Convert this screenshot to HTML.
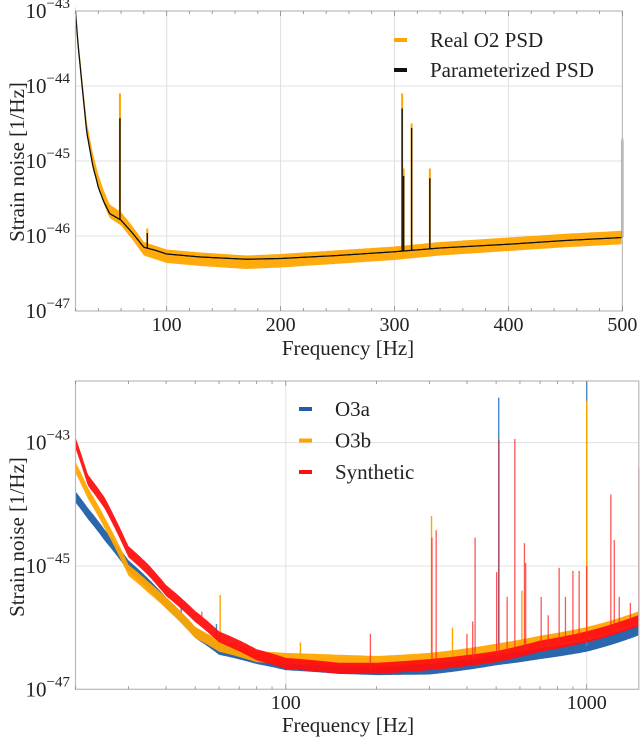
<!DOCTYPE html>
<html><head><meta charset="utf-8"><style>
html,body{margin:0;padding:0;background:#fff;}
svg{display:block;font-family:"Liberation Serif",serif;}
</style></head><body>
<svg id="root" width="640" height="737" viewBox="0 0 640 737"></svg>
<script>
// ---------- Top chart data (log10 strain noise) ----------
const topFreqs = [20,22,25,30,35,40,45,50,60,70,80,90,100,130,170,200,250,300,340,400,450,500];
const topParam = [-43.0,-43.4,-43.88,-44.63,-45.05,-45.35,-45.55,-45.7,-45.79,-45.96,-46.15,-46.19,-46.24,-46.28,-46.31,-46.3,-46.26,-46.21,-46.16,-46.11,-46.06,-46.02];
const topRealOffset = [0,0,0.02,0.05,0.08,0.08,0.06,0.03,0.02,0,-0.02,-0.03,-0.03,-0.03,-0.04,-0.03,-0.02,-0.02,-0.01,0,0,0];
const topSpikeFreqs = [59,83,306.7,308,315,331,500];
const topSpikeParam = [-44.43,-45.96,-44.3,-45.2,-44.56,-45.23,-44.73];
const topSpikeReal = [-44.1,-45.9,-44.1,-45.1,-44.5,-45.1,-44.7];
const topXTicks = [100,200,300,400,500];
const topYTicks = [-47,-46,-45,-44,-43];
// ---------- Bottom chart data ----------
const botFreqs = [20,22,25,30,35,40,50,60,80,100,150,200,300,500,700,1000,1500];
const botO3a = [-43.88,-44.15,-44.5,-45.0,-45.3,-45.6,-46.08,-46.35,-46.5,-46.6,-46.66,-46.68,-46.67,-46.52,-46.42,-46.3,-46.03];
const botO3b = [-43.4,-43.82,-44.3,-45.07,-45.35,-45.6,-46.08,-46.3,-46.47,-46.5,-46.53,-46.55,-46.5,-46.35,-46.22,-46.08,-45.82];
const botSyn = [-43.0,-43.61,-43.98,-44.77,-45.07,-45.4,-45.82,-46.15,-46.44,-46.58,-46.66,-46.66,-46.6,-46.47,-46.3,-46.15,-45.88];
const o3aSpikeF = [44.9,58.8,510,1000];
const o3aSpikeV = [-45.58,-45.94,-42.27,-42.0];
const o3bSpikeF = [60.5,111.8,305,358,609,1000];
const o3bSpikeV = [-45.47,-46.24,-44.19,-46.0,-45.4,-42.32];
const synSpikeF = [52.6,191,306,316,400,418,425.7,502,511,544,577,621,627,706,745,810,850,900,944,1000,1203,1235,1283,1397,1490];
const synSpikeV = [-45.74,-46.1,-44.54,-44.42,-46.1,-45.9,-44.54,-45.1,-42.95,-45.5,-42.94,-44.63,-44.95,-45.5,-45.8,-45.03,-45.5,-45.08,-45.08,-45.0,-43.84,-44.58,-45.5,-45.6,-43.4];
const botXTicks = [100,1000];
const botYTicks = [-47,-45,-43];

const NS="http://www.w3.org/2000/svg";
const root=document.getElementById('root');
function mk(tag,attrs,parent){const e=document.createElementNS(NS,tag);for(const k in attrs)e.setAttribute(k,attrs[k]);(parent||root).appendChild(e);return e;}
function interp(xs,ys,x){if(x<=xs[0])return ys[0];for(let i=1;i<xs.length;i++){if(x<=xs[i]){const t=(x-xs[i-1])/(xs[i]-xs[i-1]);return ys[i-1]+t*(ys[i]-ys[i-1]);}}return ys[ys.length-1];}

const T={l:75.5,r:622.4,t:11,b:311,x0:20,x1:500,y0:-47,y1:-43};
const tx=f=>T.l+(f-T.x0)/(T.x1-T.x0)*(T.r-T.l);
const ty=v=>T.b-(v-T.y0)/(T.y1-T.y0)*(T.b-T.t);
const B={l:75.5,r:638.8,t:381,b:689.3,x0:Math.log10(20),x1:Math.log10(1490),y0:-47,y1:-42};
const bx=f=>B.l+(Math.log10(f)-B.x0)/(B.x1-B.x0)*(B.r-B.l);
const by=v=>B.b-(v-B.y0)/(B.y1-B.y0)*(B.b-B.t);

function frame(A,name){
  const g=mk('g',{});
  
  
  mk('rect',{x:A.l,y:A.t,width:A.r-A.l,height:A.b-A.t,fill:'none',stroke:'#bbb','stroke-width':1.2},g);
  return g;
}
function ylabelTick(x,y,exp,name){
  const t=mk('text',{x:x,y:y+7,'text-anchor':'end','font-size':21,fill:'#222'});
  
  
  t.innerHTML='10<tspan dy="-10" font-size="15">−'+Math.abs(exp)+'</tspan>';
}
function band(xs,base,offs,fx,fy,w,color,samples,name){
  let up=[],lo=[];
  for(const f of samples){const v=interp(xs,base,f)+(offs?interp(xs,offs,f):0);up.push([fx(f),fy(v+w)]);lo.push([fx(f),fy(v-w)]);}
  const pts=up.concat(lo.reverse()).map(p=>p[0].toFixed(1)+','+p[1].toFixed(1)).join(' ');
  const p=mk('polygon',{points:pts,fill:color,opacity:0.95});
  
  
}
function line(xs,base,fx,fy,samples,color,wd,name){
  const d=samples.map((f,i)=>(i?'L':'M')+fx(f).toFixed(1)+','+fy(interp(xs,base,f)).toFixed(1)).join('');
  const p=mk('path',{d:d,fill:'none',stroke:color,'stroke-width':wd});
  
  
}
function spikes(fs,vs,xs,base,fx,fy,color,wd,name,op){
  fs.forEach((f,i)=>{
    const l=mk('line',{x1:fx(f),x2:fx(f),y1:fy(interp(xs,base,f)),y2:fy(vs[i]),stroke:color,'stroke-width':wd,opacity:op||1});
    
    
  });
}

// ===== TOP =====
topYTicks.forEach(v=>{ if(v>-47&&v<-43){const l=mk('line',{x1:T.l,x2:T.r,y1:ty(v),y2:ty(v),stroke:'#e0e0e0','stroke-width':1});}});
topXTicks.forEach(f=>{ if(f<500){const l=mk('line',{x1:tx(f),x2:tx(f),y1:T.t,y2:T.b,stroke:'#e0e0e0','stroke-width':1});}});
let ts=[];for(let f=20;f<=500;f+=0.8)ts.push(f);
band(topFreqs,topParam,topRealOffset,tx,ty,0.09,'#ffa500',ts,'real-o2-psd-band');
spikes(topSpikeFreqs,topSpikeReal,topFreqs,topParam,tx,ty,'#ffa500',2,'real-o2-spike');
line(topFreqs,topParam,tx,ty,ts,'#111',1.3,'parameterized-psd-line');
spikes(topSpikeFreqs,topSpikeParam,topFreqs,topParam,tx,ty,'#111',1.4,'parameterized-spike');
frame(T,'top');
for(let f=20;f<=500;f+=20){const l=mk('line',{x1:tx(f),x2:tx(f),y1:T.b,y2:T.b-(f%100===0?5:3),stroke:'#888','stroke-width':0.8});
 const l2=mk('line',{x1:tx(f),x2:tx(f),y1:T.t,y2:T.t+(f%100===0?5:3),stroke:'#888','stroke-width':0.8});}
topXTicks.forEach(f=>{const t=mk('text',{x:tx(f),y:331,'text-anchor':'middle','font-size':20,fill:'#222'});t.textContent=f;});
topYTicks.forEach(v=>ylabelTick(70,ty(v),v,'top-y-tick-label'));
{const t=mk('text',{x:348,y:355,'text-anchor':'middle','font-size':21,fill:'#222'});t.textContent='Frequency [Hz]';}
{const t=mk('text',{x:0,y:0,'text-anchor':'middle','font-size':21,fill:'#222',transform:'translate(24,162) rotate(-90)'});t.textContent='Strain noise [1/Hz]';}
[['#ffa500','Real O2 PSD',40],['#111','Parameterized PSD',70]].forEach(e=>{
  const g=mk('g',{});
  mk('rect',{x:394,y:e[2]-2,width:13,height:4,fill:e[0]},g);
  const t=mk('text',{x:430,y:e[2]+7,'font-size':21,fill:'#222'},g);t.textContent=e[1];
});

// ===== BOTTOM =====
botYTicks.forEach(v=>{const l=mk('line',{x1:B.l,x2:B.r,y1:by(v),y2:by(v),stroke:'#e0e0e0','stroke-width':1});});
botXTicks.forEach(f=>{const l=mk('line',{x1:bx(f),x2:bx(f),y1:B.t,y2:B.b,stroke:'#e0e0e0','stroke-width':1});});
let bs=[];for(let lf=B.x0;lf<=B.x1;lf+=0.004)bs.push(Math.pow(10,lf));
band(botFreqs,botO3a,null,bx,by,0.09,'#1f5fa8',bs,'o3a-band');
spikes(o3aSpikeF,o3aSpikeV,botFreqs,botO3a,bx,by,'#4a86c5',1.4,'o3a-spike');
band(botFreqs,botO3b,null,bx,by,0.09,'#ffa500',bs,'o3b-band');
spikes(o3bSpikeF,o3bSpikeV,botFreqs,botO3b,bx,by,'#ffa500',1.4,'o3b-spike');
band(botFreqs,botSyn,null,bx,by,0.09,'#ff1010',bs,'synthetic-band');
spikes(synSpikeF,synSpikeV,botFreqs,botSyn,bx,by,'#ff2020',1.3,'synthetic-spike',0.75);
frame(B,'bottom');
[20,30,40,50,60,70,80,90,100,200,300,400,500,600,700,800,900,1000].forEach(f=>{
  const big=(f===100||f===1000);
  const l=mk('line',{x1:bx(f),x2:bx(f),y1:B.b,y2:B.b-(big?5:3),stroke:'#888','stroke-width':0.8});
  const l2=mk('line',{x1:bx(f),x2:bx(f),y1:B.t,y2:B.t+(big?5:3),stroke:'#888','stroke-width':0.8});
});
botXTicks.forEach(f=>{const t=mk('text',{x:bx(f),y:709,'text-anchor':'middle','font-size':20,fill:'#222'});t.textContent=f;});
botYTicks.forEach(v=>ylabelTick(70,by(v),v,'bottom-y-tick-label'));
{const t=mk('text',{x:348,y:732,'text-anchor':'middle','font-size':21,fill:'#222'});t.textContent='Frequency [Hz]';}
{const t=mk('text',{x:0,y:0,'text-anchor':'middle','font-size':21,fill:'#222',transform:'translate(24,537) rotate(-90)'});t.textContent='Strain noise [1/Hz]';}
[['#1f5fa8','O3a',409],['#ffa500','O3b',440.5],['#ff1010','Synthetic',472]].forEach(e=>{
  const g=mk('g',{});
  mk('rect',{x:299,y:e[2]-2,width:13,height:4,fill:e[0]},g);
  const t=mk('text',{x:335,y:e[2]+7,'font-size':21,fill:'#222'},g);t.textContent=e[1];
});
</script>
</body></html>
